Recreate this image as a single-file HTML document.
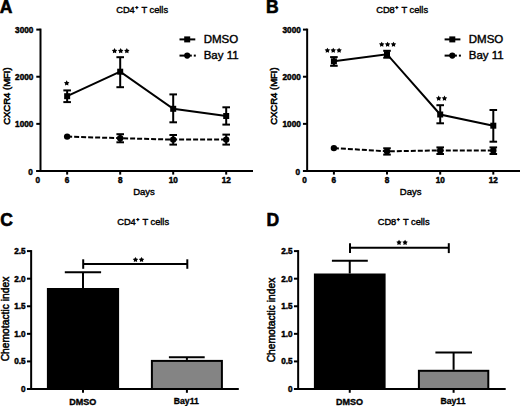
<!DOCTYPE html>
<html><head><meta charset="utf-8"><style>
html,body{margin:0;padding:0;background:#fff;}
body{width:520px;height:406px;overflow:hidden;}
svg{display:block;font-family:"Liberation Sans", sans-serif;}
text{fill:#000;}
</style></head><body>
<svg width="520" height="406" viewBox="0 0 520 406">
<text x="-0.30" y="12.60" font-size="17.5" font-weight="bold" text-anchor="start" stroke="#000" stroke-width="0.6">A</text>
<text x="116.20" y="12.60" font-size="9.3" font-weight="normal" text-anchor="start" stroke="#000" stroke-width="0.4">CD4</text>
<text x="135.30" y="8.80" font-size="5.2" font-weight="bold" text-anchor="start" stroke="#000" stroke-width="0.45">+</text>
<text x="141.40" y="12.60" font-size="9.3" font-weight="normal" text-anchor="start" stroke="#000" stroke-width="0.4">T cells</text>
<line x1="40.50" y1="28.60" x2="40.50" y2="172.00" stroke="#000" stroke-width="2" stroke-linecap="butt"/>
<line x1="36.30" y1="171.00" x2="40.50" y2="171.00" stroke="#000" stroke-width="2" stroke-linecap="butt"/>
<text x="32.70" y="175.40" font-size="8.2" font-weight="bold" text-anchor="end" stroke="#000" stroke-width="0.45">0</text>
<line x1="36.30" y1="123.87" x2="40.50" y2="123.87" stroke="#000" stroke-width="2" stroke-linecap="butt"/>
<text x="33.30" y="127.27" font-size="8.2" font-weight="bold" text-anchor="end" stroke="#000" stroke-width="0.45">1000</text>
<line x1="36.30" y1="76.73" x2="40.50" y2="76.73" stroke="#000" stroke-width="2" stroke-linecap="butt"/>
<text x="33.30" y="80.13" font-size="8.2" font-weight="bold" text-anchor="end" stroke="#000" stroke-width="0.45">2000</text>
<line x1="36.30" y1="29.60" x2="40.50" y2="29.60" stroke="#000" stroke-width="2" stroke-linecap="butt"/>
<text x="33.30" y="33.00" font-size="8.2" font-weight="bold" text-anchor="end" stroke="#000" stroke-width="0.45">3000</text>
<line x1="36.30" y1="171.00" x2="253.00" y2="171.00" stroke="#000" stroke-width="2" stroke-linecap="butt"/>
<line x1="67.15" y1="171.00" x2="67.15" y2="174.60" stroke="#000" stroke-width="2" stroke-linecap="butt"/>
<text x="67.15" y="182.50" font-size="8.2" font-weight="bold" text-anchor="middle" stroke="#000" stroke-width="0.45">6</text>
<line x1="120.20" y1="171.00" x2="120.20" y2="174.60" stroke="#000" stroke-width="2" stroke-linecap="butt"/>
<text x="120.20" y="182.50" font-size="8.2" font-weight="bold" text-anchor="middle" stroke="#000" stroke-width="0.45">8</text>
<line x1="173.20" y1="171.00" x2="173.20" y2="174.60" stroke="#000" stroke-width="2" stroke-linecap="butt"/>
<text x="173.20" y="182.50" font-size="8.2" font-weight="bold" text-anchor="middle" stroke="#000" stroke-width="0.45">10</text>
<line x1="226.20" y1="171.00" x2="226.20" y2="174.60" stroke="#000" stroke-width="2" stroke-linecap="butt"/>
<text x="226.20" y="182.50" font-size="8.2" font-weight="bold" text-anchor="middle" stroke="#000" stroke-width="0.45">12</text>
<text x="37.90" y="182.50" font-size="8.2" font-weight="bold" text-anchor="middle" stroke="#000" stroke-width="0.45">0</text>
<text x="144.00" y="194.50" font-size="9.5" font-weight="normal" text-anchor="middle" stroke="#000" stroke-width="0.4">Days</text>
<text x="0.00" y="0.00" font-size="9.5" font-weight="normal" text-anchor="middle" stroke="#000" stroke-width="0.55" transform="translate(9.80,96.1) rotate(-90)">CXCR4 (MFI)</text>
<polyline points="67.15,136.60 120.20,138.20 173.20,139.60 226.20,139.60" fill="none" stroke="#000" stroke-width="2" stroke-linejoin="miter" stroke-dasharray="5 2"/>
<circle cx="67.15" cy="136.60" r="3.2" fill="#000"/>
<line x1="120.20" y1="134.20" x2="120.20" y2="142.30" stroke="#000" stroke-width="2" stroke-linecap="butt"/>
<line x1="116.40" y1="134.20" x2="124.00" y2="134.20" stroke="#000" stroke-width="2" stroke-linecap="butt"/>
<line x1="116.40" y1="142.30" x2="124.00" y2="142.30" stroke="#000" stroke-width="2" stroke-linecap="butt"/>
<circle cx="120.20" cy="138.20" r="3.2" fill="#000"/>
<line x1="173.20" y1="135.00" x2="173.20" y2="144.60" stroke="#000" stroke-width="2" stroke-linecap="butt"/>
<line x1="169.40" y1="135.00" x2="177.00" y2="135.00" stroke="#000" stroke-width="2" stroke-linecap="butt"/>
<line x1="169.40" y1="144.60" x2="177.00" y2="144.60" stroke="#000" stroke-width="2" stroke-linecap="butt"/>
<circle cx="173.20" cy="139.60" r="3.2" fill="#000"/>
<line x1="226.20" y1="134.60" x2="226.20" y2="144.60" stroke="#000" stroke-width="2" stroke-linecap="butt"/>
<line x1="222.40" y1="134.60" x2="230.00" y2="134.60" stroke="#000" stroke-width="2" stroke-linecap="butt"/>
<line x1="222.40" y1="144.60" x2="230.00" y2="144.60" stroke="#000" stroke-width="2" stroke-linecap="butt"/>
<circle cx="226.20" cy="139.60" r="3.2" fill="#000"/>
<polyline points="67.15,96.20 120.20,71.70 173.20,108.80 226.20,116.00" fill="none" stroke="#000" stroke-width="2" stroke-linejoin="miter"/>
<line x1="67.15" y1="90.40" x2="67.15" y2="102.10" stroke="#000" stroke-width="2" stroke-linecap="butt"/>
<line x1="63.35" y1="90.40" x2="70.95" y2="90.40" stroke="#000" stroke-width="2" stroke-linecap="butt"/>
<line x1="63.35" y1="102.10" x2="70.95" y2="102.10" stroke="#000" stroke-width="2" stroke-linecap="butt"/>
<rect x="64.15" y="93.20" width="6.00" height="6.00" fill="#000"/>
<line x1="120.20" y1="57.20" x2="120.20" y2="87.20" stroke="#000" stroke-width="2" stroke-linecap="butt"/>
<line x1="116.40" y1="57.20" x2="124.00" y2="57.20" stroke="#000" stroke-width="2" stroke-linecap="butt"/>
<line x1="116.40" y1="87.20" x2="124.00" y2="87.20" stroke="#000" stroke-width="2" stroke-linecap="butt"/>
<rect x="117.20" y="68.70" width="6.00" height="6.00" fill="#000"/>
<line x1="173.20" y1="94.40" x2="173.20" y2="122.30" stroke="#000" stroke-width="2" stroke-linecap="butt"/>
<line x1="169.40" y1="94.40" x2="177.00" y2="94.40" stroke="#000" stroke-width="2" stroke-linecap="butt"/>
<line x1="169.40" y1="122.30" x2="177.00" y2="122.30" stroke="#000" stroke-width="2" stroke-linecap="butt"/>
<rect x="170.20" y="105.80" width="6.00" height="6.00" fill="#000"/>
<line x1="226.20" y1="107.30" x2="226.20" y2="124.60" stroke="#000" stroke-width="2" stroke-linecap="butt"/>
<line x1="222.40" y1="107.30" x2="230.00" y2="107.30" stroke="#000" stroke-width="2" stroke-linecap="butt"/>
<line x1="222.40" y1="124.60" x2="230.00" y2="124.60" stroke="#000" stroke-width="2" stroke-linecap="butt"/>
<rect x="223.20" y="113.00" width="6.00" height="6.00" fill="#000"/>
<polygon points="66.70,80.35 67.61,81.95 69.41,82.32 68.17,83.68 68.38,85.51 66.70,84.75 65.02,85.51 65.23,83.68 63.99,82.32 65.79,81.95" fill="#000"/>
<polygon points="114.55,48.05 115.46,49.65 117.26,50.02 116.02,51.38 116.23,53.21 114.55,52.45 112.87,53.21 113.08,51.38 111.84,50.02 113.64,49.65" fill="#000"/>
<polygon points="120.70,48.05 121.61,49.65 123.41,50.02 122.17,51.38 122.38,53.21 120.70,52.45 119.02,53.21 119.23,51.38 117.99,50.02 119.79,49.65" fill="#000"/>
<polygon points="126.85,48.05 127.76,49.65 129.56,50.02 128.32,51.38 128.53,53.21 126.85,52.45 125.17,53.21 125.38,51.38 124.14,50.02 125.94,49.65" fill="#000"/>
<line x1="179.50" y1="39.40" x2="195.30" y2="39.40" stroke="#000" stroke-width="2" stroke-linecap="butt"/>
<rect x="184.20" y="36.40" width="6.00" height="6.00" fill="#000"/>
<line x1="179.50" y1="55.60" x2="191.80" y2="55.60" stroke="#000" stroke-width="2" stroke-linecap="butt"/>
<line x1="193.80" y1="55.60" x2="195.80" y2="55.60" stroke="#000" stroke-width="2" stroke-linecap="butt"/>
<circle cx="187.20" cy="55.60" r="3.1" fill="#000"/>
<text x="203.70" y="43.20" font-size="11.5" font-weight="normal" text-anchor="start" stroke="#000" stroke-width="0.4">DMSO</text>
<text x="203.70" y="58.70" font-size="11.5" font-weight="normal" text-anchor="start" stroke="#000" stroke-width="0.4">Bay 11</text>
<text x="265.90" y="12.60" font-size="17.5" font-weight="bold" text-anchor="start" stroke="#000" stroke-width="0.6">B</text>
<text x="376.20" y="12.60" font-size="9.3" font-weight="normal" text-anchor="start" stroke="#000" stroke-width="0.4">CD8</text>
<text x="395.30" y="8.80" font-size="5.2" font-weight="bold" text-anchor="start" stroke="#000" stroke-width="0.45">+</text>
<text x="401.40" y="12.60" font-size="9.3" font-weight="normal" text-anchor="start" stroke="#000" stroke-width="0.4">T cells</text>
<line x1="307.15" y1="28.60" x2="307.15" y2="172.00" stroke="#000" stroke-width="2" stroke-linecap="butt"/>
<line x1="302.95" y1="171.00" x2="307.15" y2="171.00" stroke="#000" stroke-width="2" stroke-linecap="butt"/>
<text x="300.15" y="175.40" font-size="8.2" font-weight="bold" text-anchor="end" stroke="#000" stroke-width="0.45">0</text>
<line x1="302.95" y1="123.87" x2="307.15" y2="123.87" stroke="#000" stroke-width="2" stroke-linecap="butt"/>
<text x="300.75" y="127.27" font-size="8.2" font-weight="bold" text-anchor="end" stroke="#000" stroke-width="0.45">1000</text>
<line x1="302.95" y1="76.73" x2="307.15" y2="76.73" stroke="#000" stroke-width="2" stroke-linecap="butt"/>
<text x="300.75" y="80.13" font-size="8.2" font-weight="bold" text-anchor="end" stroke="#000" stroke-width="0.45">2000</text>
<line x1="302.95" y1="29.60" x2="307.15" y2="29.60" stroke="#000" stroke-width="2" stroke-linecap="butt"/>
<text x="300.75" y="33.00" font-size="8.2" font-weight="bold" text-anchor="end" stroke="#000" stroke-width="0.45">3000</text>
<line x1="302.95" y1="171.00" x2="520.00" y2="171.00" stroke="#000" stroke-width="2" stroke-linecap="butt"/>
<line x1="333.90" y1="171.00" x2="333.90" y2="174.60" stroke="#000" stroke-width="2" stroke-linecap="butt"/>
<text x="333.90" y="182.50" font-size="8.2" font-weight="bold" text-anchor="middle" stroke="#000" stroke-width="0.45">6</text>
<line x1="387.00" y1="171.00" x2="387.00" y2="174.60" stroke="#000" stroke-width="2" stroke-linecap="butt"/>
<text x="387.00" y="182.50" font-size="8.2" font-weight="bold" text-anchor="middle" stroke="#000" stroke-width="0.45">8</text>
<line x1="440.20" y1="171.00" x2="440.20" y2="174.60" stroke="#000" stroke-width="2" stroke-linecap="butt"/>
<text x="440.20" y="182.50" font-size="8.2" font-weight="bold" text-anchor="middle" stroke="#000" stroke-width="0.45">10</text>
<line x1="493.30" y1="171.00" x2="493.30" y2="174.60" stroke="#000" stroke-width="2" stroke-linecap="butt"/>
<text x="493.30" y="182.50" font-size="8.2" font-weight="bold" text-anchor="middle" stroke="#000" stroke-width="0.45">12</text>
<text x="304.55" y="182.50" font-size="8.2" font-weight="bold" text-anchor="middle" stroke="#000" stroke-width="0.45">0</text>
<text x="410.65" y="194.50" font-size="9.5" font-weight="normal" text-anchor="middle" stroke="#000" stroke-width="0.4">Days</text>
<text x="0.00" y="0.00" font-size="9.5" font-weight="normal" text-anchor="middle" stroke="#000" stroke-width="0.55" transform="translate(276.75,96.1) rotate(-90)">CXCR4 (MFI)</text>
<polyline points="333.90,148.10 387.00,151.30 440.20,150.40 493.30,150.50" fill="none" stroke="#000" stroke-width="2" stroke-linejoin="miter" stroke-dasharray="5 2"/>
<circle cx="333.90" cy="148.10" r="3.2" fill="#000"/>
<line x1="387.00" y1="148.30" x2="387.00" y2="154.60" stroke="#000" stroke-width="2" stroke-linecap="butt"/>
<line x1="383.20" y1="148.30" x2="390.80" y2="148.30" stroke="#000" stroke-width="2" stroke-linecap="butt"/>
<line x1="383.20" y1="154.60" x2="390.80" y2="154.60" stroke="#000" stroke-width="2" stroke-linecap="butt"/>
<circle cx="387.00" cy="151.30" r="3.2" fill="#000"/>
<line x1="440.20" y1="147.40" x2="440.20" y2="154.00" stroke="#000" stroke-width="2" stroke-linecap="butt"/>
<line x1="436.40" y1="147.40" x2="444.00" y2="147.40" stroke="#000" stroke-width="2" stroke-linecap="butt"/>
<line x1="436.40" y1="154.00" x2="444.00" y2="154.00" stroke="#000" stroke-width="2" stroke-linecap="butt"/>
<circle cx="440.20" cy="150.40" r="3.2" fill="#000"/>
<line x1="493.30" y1="147.40" x2="493.30" y2="154.00" stroke="#000" stroke-width="2" stroke-linecap="butt"/>
<line x1="489.50" y1="147.40" x2="497.10" y2="147.40" stroke="#000" stroke-width="2" stroke-linecap="butt"/>
<line x1="489.50" y1="154.00" x2="497.10" y2="154.00" stroke="#000" stroke-width="2" stroke-linecap="butt"/>
<circle cx="493.30" cy="150.50" r="3.2" fill="#000"/>
<polyline points="333.90,61.30 387.00,54.20 440.20,114.50 493.30,125.70" fill="none" stroke="#000" stroke-width="2" stroke-linejoin="miter"/>
<line x1="333.90" y1="57.10" x2="333.90" y2="65.80" stroke="#000" stroke-width="2" stroke-linecap="butt"/>
<line x1="330.10" y1="57.10" x2="337.70" y2="57.10" stroke="#000" stroke-width="2" stroke-linecap="butt"/>
<line x1="330.10" y1="65.80" x2="337.70" y2="65.80" stroke="#000" stroke-width="2" stroke-linecap="butt"/>
<rect x="330.90" y="58.30" width="6.00" height="6.00" fill="#000"/>
<line x1="387.00" y1="50.80" x2="387.00" y2="57.70" stroke="#000" stroke-width="2" stroke-linecap="butt"/>
<line x1="383.20" y1="50.80" x2="390.80" y2="50.80" stroke="#000" stroke-width="2" stroke-linecap="butt"/>
<line x1="383.20" y1="57.70" x2="390.80" y2="57.70" stroke="#000" stroke-width="2" stroke-linecap="butt"/>
<rect x="384.00" y="51.20" width="6.00" height="6.00" fill="#000"/>
<line x1="440.20" y1="105.20" x2="440.20" y2="123.30" stroke="#000" stroke-width="2" stroke-linecap="butt"/>
<line x1="436.40" y1="105.20" x2="444.00" y2="105.20" stroke="#000" stroke-width="2" stroke-linecap="butt"/>
<line x1="436.40" y1="123.30" x2="444.00" y2="123.30" stroke="#000" stroke-width="2" stroke-linecap="butt"/>
<rect x="437.20" y="111.50" width="6.00" height="6.00" fill="#000"/>
<line x1="493.30" y1="110.00" x2="493.30" y2="141.70" stroke="#000" stroke-width="2" stroke-linecap="butt"/>
<line x1="489.50" y1="110.00" x2="497.10" y2="110.00" stroke="#000" stroke-width="2" stroke-linecap="butt"/>
<line x1="489.50" y1="141.70" x2="497.10" y2="141.70" stroke="#000" stroke-width="2" stroke-linecap="butt"/>
<rect x="490.30" y="122.70" width="6.00" height="6.00" fill="#000"/>
<polygon points="327.40,47.65 328.31,49.25 330.11,49.62 328.87,50.98 329.08,52.81 327.40,52.05 325.72,52.81 325.93,50.98 324.69,49.62 326.49,49.25" fill="#000"/>
<polygon points="333.25,47.65 334.16,49.25 335.96,49.62 334.72,50.98 334.93,52.81 333.25,52.05 331.57,52.81 331.78,50.98 330.54,49.62 332.34,49.25" fill="#000"/>
<polygon points="339.10,47.65 340.01,49.25 341.81,49.62 340.57,50.98 340.78,52.81 339.10,52.05 337.42,52.81 337.63,50.98 336.39,49.62 338.19,49.25" fill="#000"/>
<polygon points="381.70,41.65 382.61,43.25 384.41,43.62 383.17,44.98 383.38,46.81 381.70,46.05 380.02,46.81 380.23,44.98 378.99,43.62 380.79,43.25" fill="#000"/>
<polygon points="387.60,41.65 388.51,43.25 390.31,43.62 389.07,44.98 389.28,46.81 387.60,46.05 385.92,46.81 386.13,44.98 384.89,43.62 386.69,43.25" fill="#000"/>
<polygon points="393.50,41.65 394.41,43.25 396.21,43.62 394.97,44.98 395.18,46.81 393.50,46.05 391.82,46.81 392.03,44.98 390.79,43.62 392.59,43.25" fill="#000"/>
<polygon points="438.70,95.55 439.61,97.15 441.41,97.52 440.17,98.88 440.38,100.71 438.70,99.95 437.02,100.71 437.23,98.88 435.99,97.52 437.79,97.15" fill="#000"/>
<polygon points="444.50,95.55 445.41,97.15 447.21,97.52 445.97,98.88 446.18,100.71 444.50,99.95 442.82,100.71 443.03,98.88 441.79,97.52 443.59,97.15" fill="#000"/>
<line x1="444.60" y1="39.40" x2="460.40" y2="39.40" stroke="#000" stroke-width="2" stroke-linecap="butt"/>
<rect x="449.30" y="36.40" width="6.00" height="6.00" fill="#000"/>
<line x1="444.60" y1="55.60" x2="456.90" y2="55.60" stroke="#000" stroke-width="2" stroke-linecap="butt"/>
<line x1="458.90" y1="55.60" x2="460.90" y2="55.60" stroke="#000" stroke-width="2" stroke-linecap="butt"/>
<circle cx="452.30" cy="55.60" r="3.1" fill="#000"/>
<text x="468.80" y="43.20" font-size="11.5" font-weight="normal" text-anchor="start" stroke="#000" stroke-width="0.4">DMSO</text>
<text x="468.80" y="58.70" font-size="11.5" font-weight="normal" text-anchor="start" stroke="#000" stroke-width="0.4">Bay 11</text>
<text x="0.30" y="226.00" font-size="17.5" font-weight="bold" text-anchor="start" stroke="#000" stroke-width="0.6">C</text>
<text x="117.20" y="225.20" font-size="9.3" font-weight="normal" text-anchor="start" stroke="#000" stroke-width="0.4">CD4</text>
<text x="136.30" y="221.40" font-size="5.2" font-weight="bold" text-anchor="start" stroke="#000" stroke-width="0.45">+</text>
<text x="142.40" y="225.20" font-size="9.3" font-weight="normal" text-anchor="start" stroke="#000" stroke-width="0.4">T cells</text>
<line x1="31.15" y1="250.10" x2="31.15" y2="390.00" stroke="#000" stroke-width="2" stroke-linecap="butt"/>
<line x1="26.95" y1="389.00" x2="31.15" y2="389.00" stroke="#000" stroke-width="2" stroke-linecap="butt"/>
<text x="25.55" y="391.90" font-size="8.2" font-weight="bold" text-anchor="end" stroke="#000" stroke-width="0.45">0</text>
<line x1="26.95" y1="361.42" x2="31.15" y2="361.42" stroke="#000" stroke-width="2" stroke-linecap="butt"/>
<text x="25.55" y="364.32" font-size="8.2" font-weight="bold" text-anchor="end" stroke="#000" stroke-width="0.45">0.5</text>
<line x1="26.95" y1="333.84" x2="31.15" y2="333.84" stroke="#000" stroke-width="2" stroke-linecap="butt"/>
<text x="25.55" y="336.74" font-size="8.2" font-weight="bold" text-anchor="end" stroke="#000" stroke-width="0.45">1.0</text>
<line x1="26.95" y1="306.26" x2="31.15" y2="306.26" stroke="#000" stroke-width="2" stroke-linecap="butt"/>
<text x="25.55" y="309.16" font-size="8.2" font-weight="bold" text-anchor="end" stroke="#000" stroke-width="0.45">1.5</text>
<line x1="26.95" y1="278.68" x2="31.15" y2="278.68" stroke="#000" stroke-width="2" stroke-linecap="butt"/>
<text x="25.55" y="281.58" font-size="8.2" font-weight="bold" text-anchor="end" stroke="#000" stroke-width="0.45">2.0</text>
<line x1="26.95" y1="251.10" x2="31.15" y2="251.10" stroke="#000" stroke-width="2" stroke-linecap="butt"/>
<text x="25.55" y="254.00" font-size="8.2" font-weight="bold" text-anchor="end" stroke="#000" stroke-width="0.45">2.5</text>
<line x1="26.95" y1="389.00" x2="238.80" y2="389.00" stroke="#000" stroke-width="2" stroke-linecap="butt"/>
<text x="0.00" y="0.00" font-size="10.3" font-weight="normal" text-anchor="middle" stroke="#000" stroke-width="0.5" transform="translate(8.55,319) rotate(-90)">Chemotactic index</text>
<line x1="83.00" y1="272.30" x2="83.00" y2="288.00" stroke="#000" stroke-width="2" stroke-linecap="butt"/>
<line x1="64.80" y1="272.30" x2="101.10" y2="272.30" stroke="#000" stroke-width="2" stroke-linecap="butt"/>
<rect x="46.90" y="288.00" width="72.20" height="101.00" fill="#000"/>
<line x1="186.90" y1="357.30" x2="186.90" y2="359.90" stroke="#000" stroke-width="2" stroke-linecap="butt"/>
<line x1="168.90" y1="357.30" x2="204.70" y2="357.30" stroke="#000" stroke-width="2" stroke-linecap="butt"/>
<rect x="151.90" y="360.90" width="70.00" height="28.10" fill="#848484" stroke="#000" stroke-width="2"/>
<line x1="83.00" y1="389.00" x2="83.00" y2="392.80" stroke="#000" stroke-width="2" stroke-linecap="butt"/>
<line x1="186.90" y1="389.00" x2="186.90" y2="392.80" stroke="#000" stroke-width="2" stroke-linecap="butt"/>
<text x="82.80" y="404.60" font-size="9" font-weight="bold" text-anchor="middle" stroke="#000" stroke-width="0.35">DMSO</text>
<text x="186.30" y="403.70" font-size="8.7" font-weight="bold" text-anchor="middle" stroke="#000" stroke-width="0.3">Bay11</text>
<line x1="83.20" y1="264.00" x2="187.30" y2="264.00" stroke="#000" stroke-width="2" stroke-linecap="butt"/>
<line x1="83.20" y1="259.30" x2="83.20" y2="268.80" stroke="#000" stroke-width="2" stroke-linecap="butt"/>
<line x1="187.30" y1="259.30" x2="187.30" y2="268.80" stroke="#000" stroke-width="2" stroke-linecap="butt"/>
<polygon points="135.47,256.95 136.39,258.55 138.19,258.92 136.95,260.28 137.15,262.11 135.47,261.35 133.80,262.11 134.00,260.28 132.76,258.92 134.56,258.55" fill="#000"/>
<polygon points="141.53,256.95 142.44,258.55 144.24,258.92 143.00,260.28 143.20,262.11 141.53,261.35 139.85,262.11 140.05,260.28 138.81,258.92 140.61,258.55" fill="#000"/>
<text x="266.40" y="226.00" font-size="17.5" font-weight="bold" text-anchor="start" stroke="#000" stroke-width="0.6">D</text>
<text x="377.70" y="225.20" font-size="9.3" font-weight="normal" text-anchor="start" stroke="#000" stroke-width="0.4">CD8</text>
<text x="396.80" y="221.40" font-size="5.2" font-weight="bold" text-anchor="start" stroke="#000" stroke-width="0.45">+</text>
<text x="402.90" y="225.20" font-size="9.3" font-weight="normal" text-anchor="start" stroke="#000" stroke-width="0.4">T cells</text>
<line x1="298.15" y1="250.10" x2="298.15" y2="390.00" stroke="#000" stroke-width="2" stroke-linecap="butt"/>
<line x1="293.95" y1="389.00" x2="298.15" y2="389.00" stroke="#000" stroke-width="2" stroke-linecap="butt"/>
<text x="292.55" y="391.90" font-size="8.2" font-weight="bold" text-anchor="end" stroke="#000" stroke-width="0.45">0</text>
<line x1="293.95" y1="361.42" x2="298.15" y2="361.42" stroke="#000" stroke-width="2" stroke-linecap="butt"/>
<text x="292.55" y="364.32" font-size="8.2" font-weight="bold" text-anchor="end" stroke="#000" stroke-width="0.45">0.5</text>
<line x1="293.95" y1="333.84" x2="298.15" y2="333.84" stroke="#000" stroke-width="2" stroke-linecap="butt"/>
<text x="292.55" y="336.74" font-size="8.2" font-weight="bold" text-anchor="end" stroke="#000" stroke-width="0.45">1.0</text>
<line x1="293.95" y1="306.26" x2="298.15" y2="306.26" stroke="#000" stroke-width="2" stroke-linecap="butt"/>
<text x="292.55" y="309.16" font-size="8.2" font-weight="bold" text-anchor="end" stroke="#000" stroke-width="0.45">1.5</text>
<line x1="293.95" y1="278.68" x2="298.15" y2="278.68" stroke="#000" stroke-width="2" stroke-linecap="butt"/>
<text x="292.55" y="281.58" font-size="8.2" font-weight="bold" text-anchor="end" stroke="#000" stroke-width="0.45">2.0</text>
<line x1="293.95" y1="251.10" x2="298.15" y2="251.10" stroke="#000" stroke-width="2" stroke-linecap="butt"/>
<text x="292.55" y="254.00" font-size="8.2" font-weight="bold" text-anchor="end" stroke="#000" stroke-width="0.45">2.5</text>
<line x1="293.95" y1="389.00" x2="505.70" y2="389.00" stroke="#000" stroke-width="2" stroke-linecap="butt"/>
<text x="0.00" y="0.00" font-size="10.3" font-weight="normal" text-anchor="middle" stroke="#000" stroke-width="0.5" transform="translate(274.75,320) rotate(-90)">Chemotactic index</text>
<line x1="349.75" y1="260.70" x2="349.75" y2="273.50" stroke="#000" stroke-width="2" stroke-linecap="butt"/>
<line x1="331.90" y1="260.70" x2="367.80" y2="260.70" stroke="#000" stroke-width="2" stroke-linecap="butt"/>
<rect x="313.90" y="273.50" width="71.70" height="115.50" fill="#000"/>
<line x1="453.60" y1="352.40" x2="453.60" y2="369.80" stroke="#000" stroke-width="2" stroke-linecap="butt"/>
<line x1="435.40" y1="352.40" x2="472.00" y2="352.40" stroke="#000" stroke-width="2" stroke-linecap="butt"/>
<rect x="418.90" y="370.80" width="69.40" height="18.20" fill="#848484" stroke="#000" stroke-width="2"/>
<line x1="349.75" y1="389.00" x2="349.75" y2="392.80" stroke="#000" stroke-width="2" stroke-linecap="butt"/>
<line x1="453.60" y1="389.00" x2="453.60" y2="392.80" stroke="#000" stroke-width="2" stroke-linecap="butt"/>
<text x="349.55" y="404.60" font-size="9" font-weight="bold" text-anchor="middle" stroke="#000" stroke-width="0.35">DMSO</text>
<text x="453.00" y="403.70" font-size="8.7" font-weight="bold" text-anchor="middle" stroke="#000" stroke-width="0.3">Bay11</text>
<line x1="350.00" y1="247.70" x2="448.80" y2="247.70" stroke="#000" stroke-width="2" stroke-linecap="butt"/>
<line x1="350.00" y1="243.20" x2="350.00" y2="253.10" stroke="#000" stroke-width="2" stroke-linecap="butt"/>
<line x1="448.80" y1="243.20" x2="448.80" y2="253.10" stroke="#000" stroke-width="2" stroke-linecap="butt"/>
<polygon points="399.03,239.75 399.94,241.35 401.74,241.72 400.50,243.08 400.70,244.91 399.03,244.15 397.35,244.91 397.55,243.08 396.31,241.72 398.11,241.35" fill="#000"/>
<polygon points="405.08,239.75 405.99,241.35 407.79,241.72 406.55,243.08 406.75,244.91 405.08,244.15 403.40,244.91 403.60,243.08 402.36,241.72 404.16,241.35" fill="#000"/>
</svg>
</body></html>
